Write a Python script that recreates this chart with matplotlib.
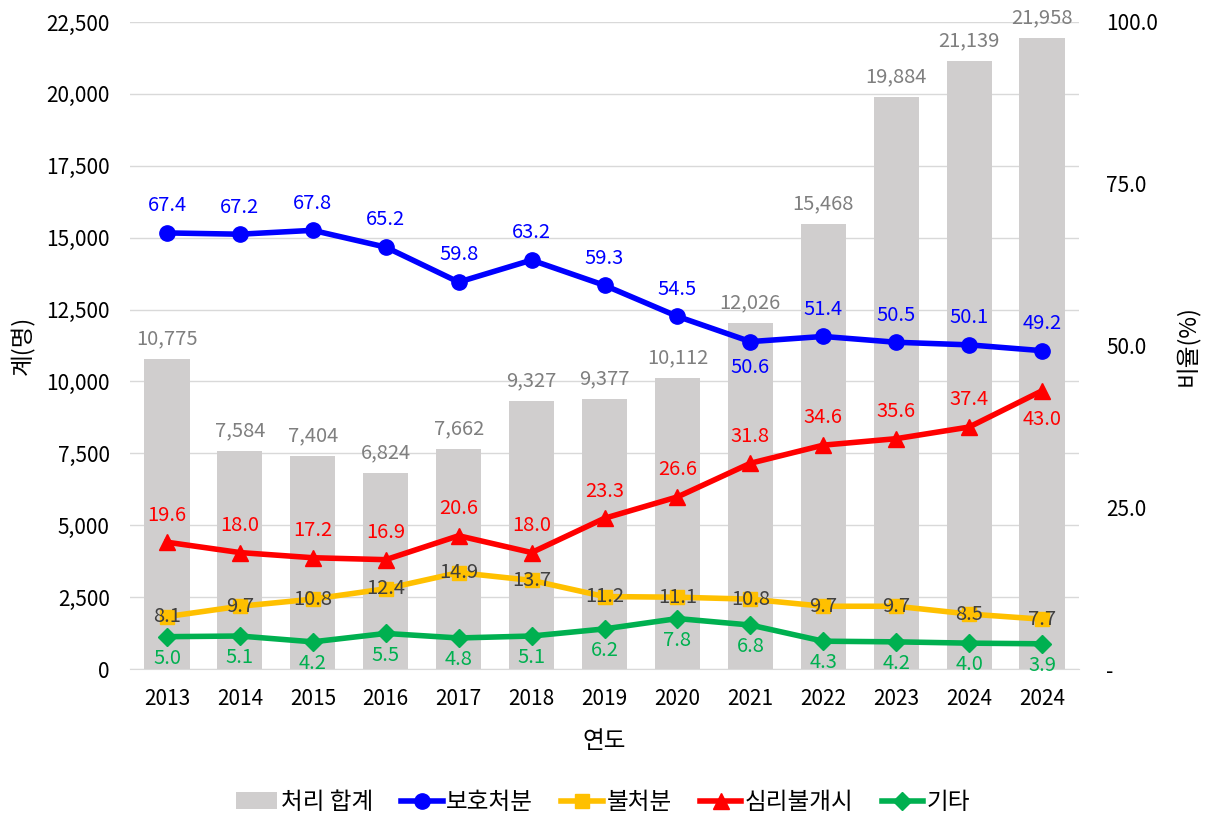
import matplotlib
matplotlib.use("Agg")
import matplotlib.pyplot as plt
import numpy as np
from matplotlib.ticker import FuncFormatter, FixedLocator

plt.rcParams['font.family'] = ['Noto Sans CJK KR', 'DejaVu Sans']

years = ['2013', '2014', '2015', '2016', '2017', '2018', '2019', '2020',
         '2021', '2022', '2023', '2024', '2024']
totals = [10775, 7584, 7404, 6824, 7662, 9327, 9377, 10112, 12026, 15468,
          19884, 21139, 21958]
protect = [67.4, 67.2, 67.8, 65.2, 59.8, 63.2, 59.3, 54.5, 50.6, 51.4, 50.5, 50.1, 49.2]
nodisp = [8.1, 9.7, 10.8, 12.4, 14.9, 13.7, 11.2, 11.1, 10.8, 9.7, 9.7, 8.5, 7.7]
nohear = [19.6, 18.0, 17.2, 16.9, 20.6, 18.0, 23.3, 26.6, 31.8, 34.6, 35.6, 37.4, 43.0]
other = [5.0, 5.1, 4.2, 5.5, 4.8, 5.1, 6.2, 7.8, 6.8, 4.3, 4.2, 4.0, 3.9]

names = ['처리 합계', '보호처분', '불처분', '심리불개시', '기타']

fig = plt.figure(figsize=(12.06, 8.14), dpi=100)
ax = fig.add_axes([0.1082, 0.1781, 0.7861, 0.7949])
ax2 = ax.twinx()

x = np.arange(len(years))
bar_color = '#D0CECE'
bars = ax.bar(x, totals, width=0.62, color=bar_color, zorder=2, label=names[0])
ax.set_ylim(0, 22500)
ax.set_xlim(-0.5, len(years) - 0.5)
ax.yaxis.set_major_locator(FixedLocator(np.arange(0, 22501, 2500)))
ax.yaxis.set_major_formatter(FuncFormatter(lambda v, p: f'{int(v):,}'))
ax.grid(axis='y', color='#D9D9D9', linewidth=1, zorder=0)
ax.set_axisbelow(True)
for s in ax.spines.values():
    s.set_visible(False)
for s in ax2.spines.values():
    s.set_visible(False)
ax.spines['bottom'].set_visible(True)
ax.spines['bottom'].set_color('#D9D9D9')
ax.tick_params(axis='x', length=0, labelsize=15, pad=14)
ax.tick_params(axis='y', length=0, labelsize=15, pad=15)
ax.set_xticks(x)
ax.set_xticklabels(years)
ax.set_xlabel('연도', fontsize=17, labelpad=14)
ax.set_ylabel('계(명)', fontsize=17, labelpad=8)

for xi, t in zip(x, totals):
    ax.annotate(f'{t:,}', (xi, t), xytext=(0, 7), textcoords='offset points',
                ha='center', va='bottom', fontsize=14.5, color='#7F7F7F', zorder=5)

ax2.set_ylim(0, 100)
ax2.yaxis.set_major_locator(FixedLocator([0, 25, 50, 75, 100]))
ax2.yaxis.set_major_formatter(FuncFormatter(lambda v, p: '-' if v == 0 else f'{v:.1f}'))
ax2.tick_params(axis='y', length=0, labelsize=15, pad=20)
ax2.set_ylabel('비율(%)', fontsize=17, rotation=90, labelpad=12)
ax2.yaxis.set_label_position('right')

series = [
    (protect, '#0000FF', 'o', names[1], 11),
    (nodisp, '#FFC000', 's', names[2], 10),
    (nohear, '#FF0000', '^', names[3], 12),
    (other, '#00B050', 'D', names[4], 9.5),
]
lines = []
for vals, col, mk, nm, ms in series:
    ln, = ax2.plot(x, vals, color=col, marker=mk, markersize=ms, linewidth=4,
                   label=nm, zorder=4)
    lines.append(ln)

def lab(vals, color, pos_list, up=12, down=12):
    for xi, v, pos in zip(x, vals, pos_list):
        if pos == 'above':
            off, va = up, 'bottom'
        elif pos == 'below':
            off, va = -down, 'top'
        else:
            off, va = 0, 'center'
        ax2.annotate(f'{v:.1f}', (xi, v), xytext=(0, off), textcoords='offset points',
                     ha='center', va=va, fontsize=14.5, color=color, zorder=6)

n = len(years)
blue_pos = ['above'] * n
blue_pos[8] = 'below'
red_pos = ['above'] * n
red_pos[-1] = 'below'
lab(protect, '#0000FF', blue_pos, up=12, down=11)
lab(nodisp, '#404040', ['center'] * n)
lab(nohear, '#FF0000', red_pos, up=12, down=13)
lab(other, '#00B050', ['below'] * n, down=8)

handles = [bars] + lines
fig.legend(handles, names, loc='lower center', bbox_to_anchor=(0.5, -0.026),
           ncol=5, frameon=False, fontsize=17, handlelength=1.75,
           handletextpad=0.15, columnspacing=1.2)

fig.savefig('out.png', dpi=100)
